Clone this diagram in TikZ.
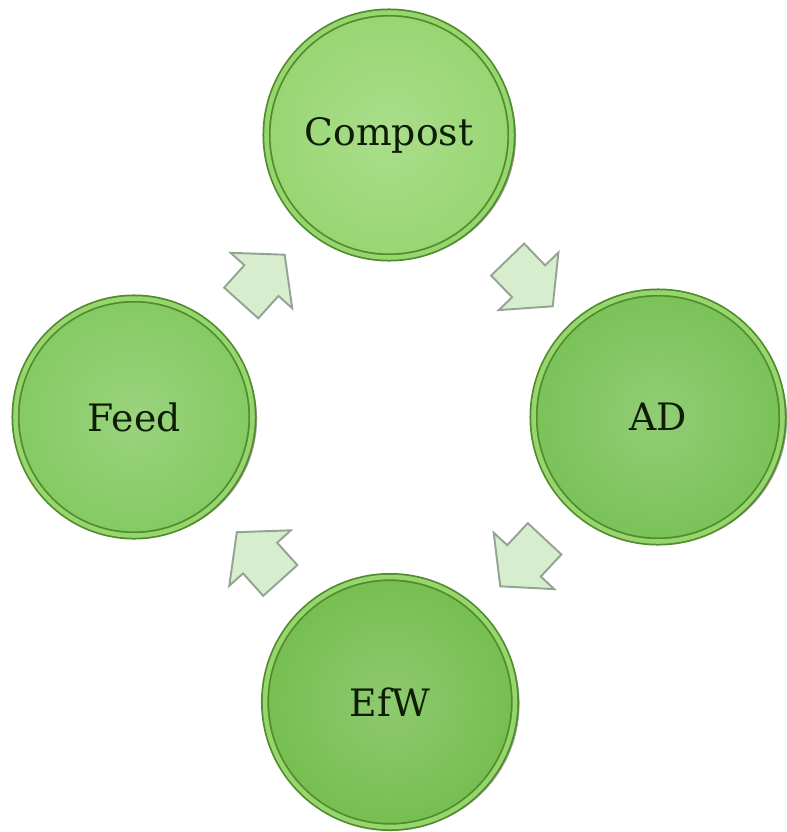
\documentclass[tikz,border=0pt]{standalone}
\usepackage{fontspec}
\usetikzlibrary{shapes.arrows,shadows,calc}

\newfontfamily\stagefont{DejaVu Serif}

\definecolor{rimgreen}{RGB}{80,140,46}
\definecolor{rimlight}{RGB}{150,214,108}
\definecolor{textgreen}{RGB}{14,30,6}
\definecolor{compostgreen}{RGB}{152,214,114}
\definecolor{adgreen}{RGB}{122,194,88}
\definecolor{feedgreen}{RGB}{132,202,98}
\definecolor{efwgreen}{RGB}{118,190,80}
\definecolor{arrowfill}{RGB}{214,238,206}
\definecolor{arrowedge}{RGB}{148,164,146}

\begin{document}
\begin{tikzpicture}[x=0.02cm,y=-0.02cm,
  stage/.style={circle, draw=rimgreen, line width=1pt, double=rimlight,
    double distance=2.6pt, inner color=#1!82!white, outer color=#1,
    drop shadow={shadow xshift=2.6pt, shadow yshift=-1.2pt, opacity=0.5, fill=black!75},
    text=textgreen, font=\stagefont\fontsize{21.5}{26}\selectfont},
  flow/.style={single arrow, draw=arrowedge, fill=arrowfill, line width=1.1pt,
    minimum width=0pt, minimum height=1.3cm, inner xsep=0pt, inner ysep=0.44cm,
    single arrow head extend=0.37cm, single arrow tip angle=100, rotate=#1}]

  % page
  \useasboundingbox (0,0) rectangle (787,832);

  % Stages
  \node (compost) at (389,135) [stage=compostgreen, minimum size=4.9cm] {Compost};
  \node (ad)      at (658,417) [stage=adgreen,      minimum size=4.98cm] {AD};
  \node (feed)    at (134,417) [stage=feedgreen,    minimum size=4.74cm] {Feed};
  \node (efw)     at (390,702) [stage=efwgreen,     minimum size=5.0cm]  {EfW};

  % Cycle arrows
  \node (a1) at ($(feed)!0.5!(compost)+(-5,10)$) [flow=48]   {};
  \node (a2) at ($(compost)!0.5!(ad)$)           [flow=-46]  {};
  \node (a3) at ($(ad)!0.5!(efw)+(5,-4)$)        [flow=-133] {};
  \node (a4) at ($(efw)!0.5!(feed)+(3,4)$)       [flow=132]  {};

\end{tikzpicture}
\end{document}
